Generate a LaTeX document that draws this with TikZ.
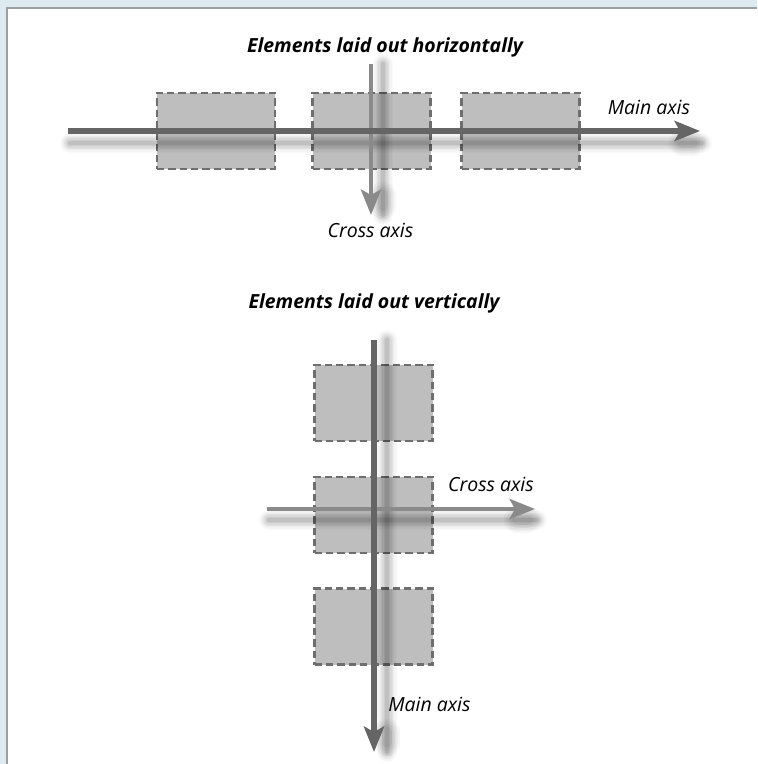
\documentclass[tikz,border=0pt]{standalone}
\usepackage{fontspec}
\setmainfont{Open Sans}
\usepackage{tikz}
\usetikzlibrary{arrows.meta,calc}
\definecolor{frameblue}{HTML}{DDEBF1}
\definecolor{frameline}{HTML}{9A9FA2}
\definecolor{mainax}{HTML}{656565}
\definecolor{crossax}{HTML}{8A8A8A}
\definecolor{elemfill}{HTML}{BEBEBE}
\definecolor{elemline}{HTML}{6E6E6E}
% soft shadow of an axis: start, end, offset
\newcommand{\axshadow}[3]{%
  \foreach \w/\o in {15/0.02,13/0.025,11/0.03,9/0.035,7/0.045,5/0.05,3/0.06}{
    \draw[line width=\w pt,opacity=\o,line cap=round] ($(#1)+#3$) -- ($(#2)+#3$);
  }
  \foreach \w/\o in {20/0.03,16/0.04,12/0.05,8/0.06}{
    \draw[line width=\w pt,opacity=\o,line cap=round] ($(#2)!15pt!(#1)+#3$) -- ($(#2)!7pt!(#1)+#3$);
  }}

\begin{document}
\begin{tikzpicture}[x=0.75pt,y=-0.75pt,
  elem/.style={draw=elemline,fill=elemfill,line width=1.6pt,dash pattern=on 5.5pt off 3pt,minimum width=88.5pt,minimum height=57pt,inner sep=0pt},
  mainaxis/.style={draw=mainax,line width=3.8pt,-{Stealth[length=19pt,width=15pt,inset=4pt]}},
  crossaxis/.style={draw=crossax,line width=3.6pt,-{Stealth[length=19pt,width=15pt,inset=4pt]}},
  title/.style={font=\bfseries\itshape\fontsize{14.6}{17}\selectfont,anchor=base},
  lbl/.style={font=\itshape\fontsize{14.6}{17}\selectfont,anchor=base}]
\useasboundingbox (0,0) rectangle (757,764);
\fill[frameblue] (0,0) rectangle (757,764);
\fill[white] (7,8) rectangle (757,764);
\draw[frameline,line width=1.2pt] (7,764) -- (7,8) -- (757,8);
% horizontal layout
\node[title] (htitle) at (385,52) {Elements laid out horizontally};
\foreach \cx [count=\i] in {216,371.5,520.5}{
  \node[elem] (h\i) at (\cx,131) {};
}
\coordinate (hm-s) at (68,131);
\coordinate (hm-e) at (700,131);
\coordinate (hc-s) at (371,64);
\coordinate (hc-e) at (371,215);
\axshadow{hm-s}{hm-e}{(2,12)}
\axshadow{hc-s}{hc-e}{(12,0)}
\draw[crossaxis] (hc-s) -- (hc-e);
\draw[mainaxis] (hm-s) -- (hm-e);
\node[lbl] (hmain) at (649,114) {Main axis};
\node[lbl] (hcross) at (370.5,237) {Cross axis};
% vertical layout
\node[title] (vtitle) at (374,308) {Elements laid out vertically};
\foreach \cy [count=\i] in {403,515,626.5}{
  \node[elem] (v\i) at (373.5,\cy) {};
}
\coordinate (vm-s) at (374,340);
\coordinate (vm-e) at (374,752);
\coordinate (vc-s) at (267,509);
\coordinate (vc-e) at (535,509);
\axshadow{vm-s}{vm-e}{(13,0)}
\axshadow{vc-s}{vc-e}{(2,11)}
\draw[crossaxis] (vc-s) -- (vc-e);
\draw[mainaxis] (vm-s) -- (vm-e);
\node[lbl] (vcross) at (491,491) {Cross axis};
\node[lbl] (vmain) at (429.5,711) {Main axis};
\end{tikzpicture}
\end{document}
